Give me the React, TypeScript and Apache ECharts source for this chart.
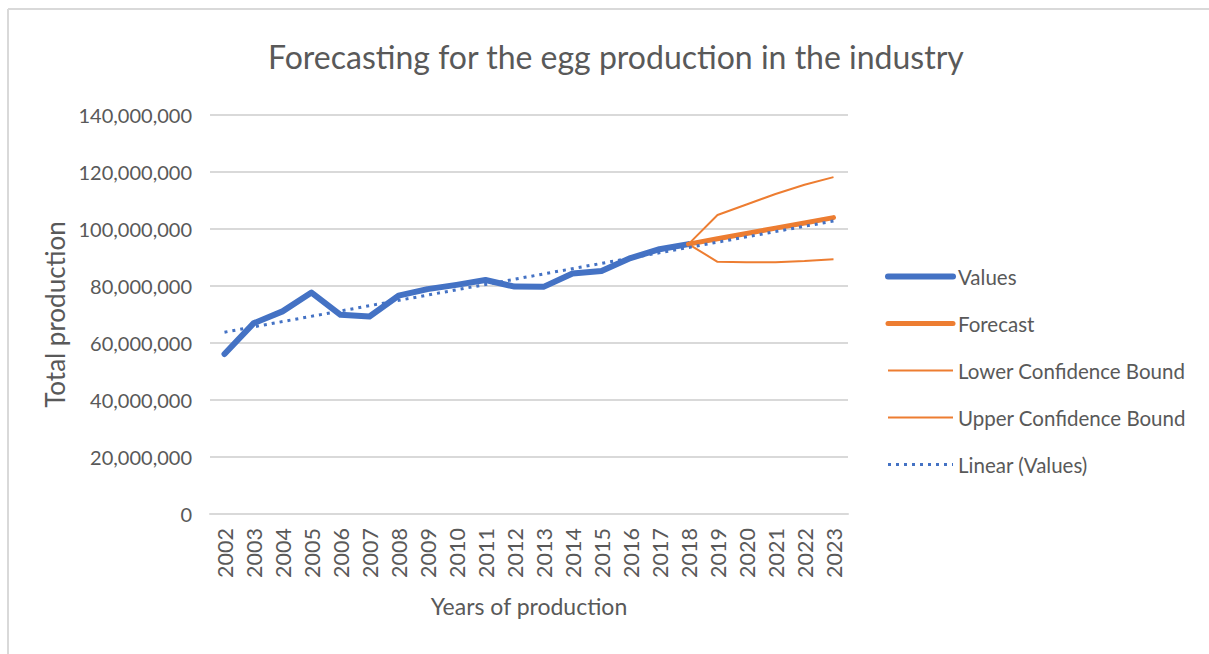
import React, { useEffect, useRef } from "react";
import * as echarts from "echarts";

const years = ["2002","2003","2004","2005","2006","2007","2008","2009","2010","2011","2012","2013","2014","2015","2016","2017","2018","2019","2020","2021","2022","2023"];
const values = [56.15, 66.9, 71.1, 77.7, 69.9, 69.3, 76.6, 78.9, 80.4, 82.1, 79.8, 79.7, 84.4, 85.3, 89.8, 92.9, 94.7, null, null, null, null, null];
const forecast = [null, null, null, null, null, null, null, null, null, null, null, null, null, null, null, null, 94.7, 96.6, 98.4, 100.3, 102.1, 104.0];
const lowerBound = [null, null, null, null, null, null, null, null, null, null, null, null, null, null, null, null, 94.7, 88.5, 88.3, 88.3, 88.8, 89.4];
const upperBound = [null, null, null, null, null, null, null, null, null, null, null, null, null, null, null, null, 94.7, 104.9, 108.6, 112.3, 115.5, 118.2];
const linearTrend = [63.8, null, null, null, null, null, null, null, null, null, null, null, null, null, null, null, null, null, null, null, null, 102.8];

const M = 1000000;
const toUnits = (arr: (number | null)[]) => arr.map((v) => (v == null ? null : Math.round(v * M)));

const FONT = "Lato";
const GRAY = "#595959";
const BLUE = "#4472C4";
const ORANGE = "#ED7D31";

export default function App() {
  const ref = useRef<HTMLDivElement>(null);
  useEffect(() => {
    if (!ref.current) return;
    const chart = echarts.init(ref.current, null, { renderer: "svg" });
    chart.setOption({
      animation: false,
      backgroundColor: "#ffffff",
      textStyle: { fontFamily: FONT },
      title: {
        text: "Forecasting for the egg production in the industry",
        left: 263,
        top: 35,
        textStyle: { fontFamily: FONT, fontSize: 32, fontWeight: "normal", color: GRAY },
      },
      graphic: [
        { type: "line", shape: { x1: 8, y1: 9, x2: 1209, y2: 9 }, style: { stroke: "#d9d9d9", lineWidth: 2 } },
        { type: "line", shape: { x1: 8, y1: 9, x2: 8, y2: 654 }, style: { stroke: "#d9d9d9", lineWidth: 2 } },
      ],
      legend: {
        orient: "vertical",
        left: 885,
        top: 265,
        padding: 0,
        itemWidth: 65,
        itemHeight: 22,
        itemGap: 24,
        itemStyle: { color: "transparent", borderColor: "transparent", borderWidth: 0 },
        textStyle: { fontFamily: FONT, fontSize: 20.5, color: GRAY, padding: [0, 0, 0, 0], lineHeight: 23 },
        data: [
          { name: "Values", lineStyle: { width: 6, cap: "round" } },
          { name: "Forecast", lineStyle: { width: 5, cap: "round" } },
          { name: "Lower Confidence Bound", lineStyle: { width: 2 } },
          { name: "Upper Confidence Bound", lineStyle: { width: 2 } },
          { name: "Linear (Values)", lineStyle: { width: 3, type: [3, 5] } },
        ],
      },
      grid: { left: 210, right: 361, top: 115, bottom: 140, containLabel: false },
      xAxis: {
        type: "category",
        data: years,
        boundaryGap: true,
        name: "Years of production",
        nameLocation: "middle",
        nameGap: 80,
        nameTextStyle: { fontFamily: FONT, fontSize: 23, color: GRAY },
        axisLine: { show: true, lineStyle: { color: "#d9d9d9", width: 2 } },
        axisTick: { show: false },
        axisLabel: { rotate: 90, fontFamily: FONT, fontSize: 21.5, color: GRAY, margin: 14, interval: 0 },
      },
      yAxis: {
        type: "value",
        min: 0,
        max: 140 * M,
        interval: 20 * M,
        name: "Total production",
        nameLocation: "middle",
        nameGap: 140,
        nameTextStyle: { fontFamily: FONT, fontSize: 26, color: GRAY },
        axisLine: { show: false },
        axisTick: { show: false },
        splitLine: { lineStyle: { color: "#d9d9d9", width: 2 } },
        axisLabel: {
          fontFamily: FONT,
          fontSize: 20,
          color: GRAY,
          margin: 18,
          formatter: (v: number) => v.toLocaleString("en-US"),
        },
      },
      series: [
        {
          name: "Values",
          type: "line",
          data: toUnits(values),
          symbol: "none",
          lineStyle: { color: BLUE, width: 6, cap: "round", join: "round" },
          itemStyle: { color: BLUE },
        },
        {
          name: "Forecast",
          type: "line",
          data: toUnits(forecast),
          symbol: "none",
          lineStyle: { color: ORANGE, width: 5, cap: "round", join: "round" },
          itemStyle: { color: ORANGE },
        },
        {
          name: "Lower Confidence Bound",
          type: "line",
          data: toUnits(lowerBound),
          symbol: "none",
          lineStyle: { color: ORANGE, width: 2 },
          itemStyle: { color: ORANGE },
        },
        {
          name: "Upper Confidence Bound",
          type: "line",
          data: toUnits(upperBound),
          symbol: "none",
          lineStyle: { color: ORANGE, width: 2 },
          itemStyle: { color: ORANGE },
        },
        {
          name: "Linear (Values)",
          type: "line",
          data: toUnits(linearTrend),
          connectNulls: true,
          symbol: "none",
          lineStyle: { color: BLUE, width: 3, type: [3, 5] },
          itemStyle: { color: BLUE },
        },
      ],
    });
    return () => chart.dispose();
  }, []);
  return <div ref={ref} style={{ position: "absolute", left: 0, top: 0, width: 1209, height: 654 }} />;
}
